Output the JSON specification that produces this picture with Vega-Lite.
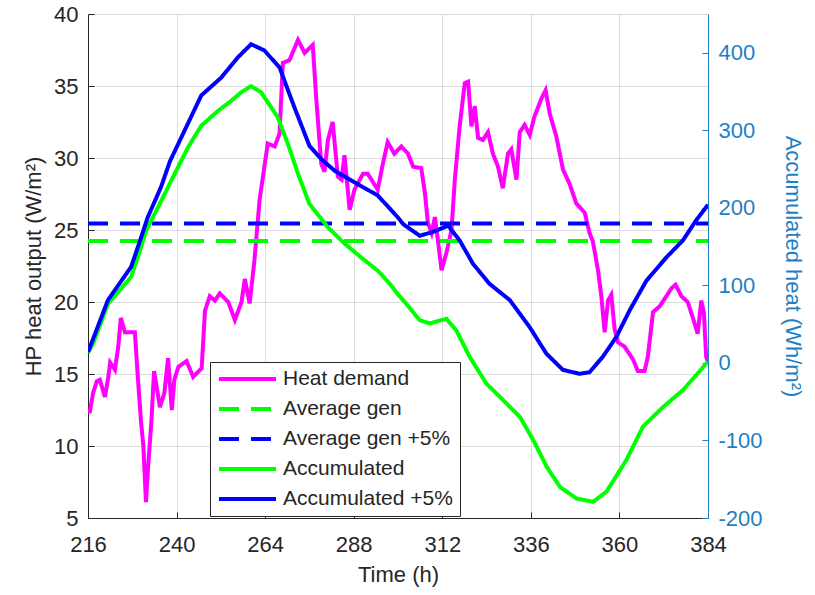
{
  "$schema": "https://vega.github.io/schema/vega-lite/v6.json",
  "width": 620,
  "height": 504,
  "autosize": "none",
  "padding": {"left": 88, "top": 14, "right": 107, "bottom": 77},
  "background": "white",
  "config": {
    "font": "Liberation Sans",
    "view": {"stroke": "#d4d4d4", "strokeWidth": 1},
    "legend": {
      "orient": "none",
      "legendX": 122,
      "legendY": 348,
      "strokeColor": "#262626",
      "fillColor": "white",
      "padding": 7,
      "symbolType": "stroke",
      "symbolSize": 3249,
      "symbolStrokeWidth": 4,
      "clipHeight": 20,
      "labelFontSize": 21,
      "labelColor": "#262626",
      "labelOffset": 5,
      "labelLimit": 400,
      "rowPadding": 9,
      "title": null
    }
  },
  "data": {
    "values": [
      {"series": "Heat demand", "h": 216, "v": 12.4},
      {"series": "Heat demand", "h": 216.5, "v": 12.4},
      {"series": "Heat demand", "h": 217.4, "v": 13.7},
      {"series": "Heat demand", "h": 218.4, "v": 14.5},
      {"series": "Heat demand", "h": 219.2, "v": 14.6},
      {"series": "Heat demand", "h": 220.6, "v": 13.4},
      {"series": "Heat demand", "h": 221.5, "v": 14.8},
      {"series": "Heat demand", "h": 222, "v": 15.8},
      {"series": "Heat demand", "h": 223.3, "v": 15.3},
      {"series": "Heat demand", "h": 224.2, "v": 16.9},
      {"series": "Heat demand", "h": 224.9, "v": 18.9},
      {"series": "Heat demand", "h": 226, "v": 17.9},
      {"series": "Heat demand", "h": 228.7, "v": 17.9},
      {"series": "Heat demand", "h": 229.5, "v": 14.8},
      {"series": "Heat demand", "h": 230.4, "v": 11.6},
      {"series": "Heat demand", "h": 231, "v": 10.0},
      {"series": "Heat demand", "h": 231.7, "v": 6.1},
      {"series": "Heat demand", "h": 232.3, "v": 8.6},
      {"series": "Heat demand", "h": 233.2, "v": 11.8},
      {"series": "Heat demand", "h": 233.9, "v": 15.2},
      {"series": "Heat demand", "h": 234.6, "v": 14.1},
      {"series": "Heat demand", "h": 235.5, "v": 12.7},
      {"series": "Heat demand", "h": 236.7, "v": 13.7},
      {"series": "Heat demand", "h": 237.7, "v": 16.1},
      {"series": "Heat demand", "h": 238.7, "v": 12.5},
      {"series": "Heat demand", "h": 239.4, "v": 14.6},
      {"series": "Heat demand", "h": 240.5, "v": 15.5},
      {"series": "Heat demand", "h": 242.7, "v": 15.9},
      {"series": "Heat demand", "h": 244.5, "v": 14.8},
      {"series": "Heat demand", "h": 246.8, "v": 15.4},
      {"series": "Heat demand", "h": 247.7, "v": 19.4},
      {"series": "Heat demand", "h": 249, "v": 20.4},
      {"series": "Heat demand", "h": 250.4, "v": 20.1},
      {"series": "Heat demand", "h": 251.7, "v": 20.6},
      {"series": "Heat demand", "h": 254, "v": 20.0},
      {"series": "Heat demand", "h": 255.8, "v": 18.75},
      {"series": "Heat demand", "h": 257.6, "v": 20.0},
      {"series": "Heat demand", "h": 258.5, "v": 21.6},
      {"series": "Heat demand", "h": 259.8, "v": 19.9},
      {"series": "Heat demand", "h": 261.1, "v": 22.9},
      {"series": "Heat demand", "h": 262.5, "v": 27.1},
      {"series": "Heat demand", "h": 264.7, "v": 31.0},
      {"series": "Heat demand", "h": 266.6, "v": 30.8},
      {"series": "Heat demand", "h": 267.9, "v": 31.7},
      {"series": "Heat demand", "h": 268.8, "v": 36.6},
      {"series": "Heat demand", "h": 270.6, "v": 36.8},
      {"series": "Heat demand", "h": 272.9, "v": 38.2},
      {"series": "Heat demand", "h": 274.7, "v": 37.3},
      {"series": "Heat demand", "h": 276.9, "v": 37.85},
      {"series": "Heat demand", "h": 277.8, "v": 34.3},
      {"series": "Heat demand", "h": 279.2, "v": 29.6},
      {"series": "Heat demand", "h": 280.1, "v": 29.05},
      {"series": "Heat demand", "h": 281, "v": 31.25},
      {"series": "Heat demand", "h": 282.3, "v": 32.5},
      {"series": "Heat demand", "h": 283.7, "v": 28.7},
      {"series": "Heat demand", "h": 284.7, "v": 28.5},
      {"series": "Heat demand", "h": 285.5, "v": 30.2},
      {"series": "Heat demand", "h": 286.9, "v": 26.4},
      {"series": "Heat demand", "h": 288.2, "v": 27.8},
      {"series": "Heat demand", "h": 290.5, "v": 28.9},
      {"series": "Heat demand", "h": 291.8, "v": 28.9},
      {"series": "Heat demand", "h": 294.5, "v": 27.8},
      {"series": "Heat demand", "h": 295.9, "v": 29.6},
      {"series": "Heat demand", "h": 297.2, "v": 31.1},
      {"series": "Heat demand", "h": 299, "v": 30.3},
      {"series": "Heat demand", "h": 300.9, "v": 30.8},
      {"series": "Heat demand", "h": 302.7, "v": 30.3},
      {"series": "Heat demand", "h": 304.1, "v": 29.4},
      {"series": "Heat demand", "h": 306.3, "v": 29.3},
      {"series": "Heat demand", "h": 307.3, "v": 27.55},
      {"series": "Heat demand", "h": 308.1, "v": 25.5},
      {"series": "Heat demand", "h": 309.1, "v": 24.8},
      {"series": "Heat demand", "h": 310, "v": 25.9},
      {"series": "Heat demand", "h": 310.9, "v": 24.1},
      {"series": "Heat demand", "h": 311.8, "v": 22.2},
      {"series": "Heat demand", "h": 313.1, "v": 23.4},
      {"series": "Heat demand", "h": 314.5, "v": 25.0},
      {"series": "Heat demand", "h": 315.4, "v": 28.5},
      {"series": "Heat demand", "h": 316.7, "v": 32.2},
      {"series": "Heat demand", "h": 318.1, "v": 35.2},
      {"series": "Heat demand", "h": 319, "v": 35.3},
      {"series": "Heat demand", "h": 319.9, "v": 32.2},
      {"series": "Heat demand", "h": 320.8, "v": 33.6},
      {"series": "Heat demand", "h": 321.7, "v": 31.4},
      {"series": "Heat demand", "h": 323, "v": 31.25},
      {"series": "Heat demand", "h": 324.4, "v": 31.8},
      {"series": "Heat demand", "h": 325.7, "v": 30.3},
      {"series": "Heat demand", "h": 327.1, "v": 29.4},
      {"series": "Heat demand", "h": 328.4, "v": 27.9},
      {"series": "Heat demand", "h": 329.8, "v": 30.3},
      {"series": "Heat demand", "h": 330.7, "v": 30.6},
      {"series": "Heat demand", "h": 332.1, "v": 28.5},
      {"series": "Heat demand", "h": 333, "v": 31.8},
      {"series": "Heat demand", "h": 334.3, "v": 32.3},
      {"series": "Heat demand", "h": 335.7, "v": 31.6},
      {"series": "Heat demand", "h": 337, "v": 32.9},
      {"series": "Heat demand", "h": 338.9, "v": 34.15},
      {"series": "Heat demand", "h": 340, "v": 34.7},
      {"series": "Heat demand", "h": 341.1, "v": 33.1},
      {"series": "Heat demand", "h": 342.9, "v": 31.5},
      {"series": "Heat demand", "h": 344.7, "v": 29.2},
      {"series": "Heat demand", "h": 346.5, "v": 28.2},
      {"series": "Heat demand", "h": 348.3, "v": 26.85},
      {"series": "Heat demand", "h": 350.6, "v": 26.2},
      {"series": "Heat demand", "h": 351.9, "v": 24.8},
      {"series": "Heat demand", "h": 352.8, "v": 24.2},
      {"series": "Heat demand", "h": 354.2, "v": 22.2},
      {"series": "Heat demand", "h": 355.1, "v": 20.4},
      {"series": "Heat demand", "h": 356, "v": 17.9},
      {"series": "Heat demand", "h": 356.9, "v": 20.1},
      {"series": "Heat demand", "h": 357.8, "v": 20.5},
      {"series": "Heat demand", "h": 358.7, "v": 18.1},
      {"series": "Heat demand", "h": 359.6, "v": 17.2},
      {"series": "Heat demand", "h": 361.4, "v": 16.9},
      {"series": "Heat demand", "h": 363.7, "v": 16.0},
      {"series": "Heat demand", "h": 365, "v": 15.2},
      {"series": "Heat demand", "h": 366.8, "v": 15.2},
      {"series": "Heat demand", "h": 367.7, "v": 16.2},
      {"series": "Heat demand", "h": 369.1, "v": 19.3},
      {"series": "Heat demand", "h": 370.9, "v": 19.7},
      {"series": "Heat demand", "h": 372.7, "v": 20.4},
      {"series": "Heat demand", "h": 374.1, "v": 20.95},
      {"series": "Heat demand", "h": 375.2, "v": 21.2},
      {"series": "Heat demand", "h": 376.8, "v": 20.4},
      {"series": "Heat demand", "h": 378.5, "v": 20.0},
      {"series": "Heat demand", "h": 379.9, "v": 18.9},
      {"series": "Heat demand", "h": 381.2, "v": 17.8},
      {"series": "Heat demand", "h": 382.2, "v": 20.1},
      {"series": "Heat demand", "h": 382.9, "v": 19.2},
      {"series": "Heat demand", "h": 383.5, "v": 16.2},
      {"series": "Heat demand", "h": 384, "v": 15.8},
      {"series": "Average gen", "h": 216, "v": 24.24},
      {"series": "Average gen", "h": 384, "v": 24.24},
      {"series": "Average gen +5%", "h": 216, "v": 25.45},
      {"series": "Average gen +5%", "h": 384, "v": 25.45},
      {"series": "Accumulated", "h": 216, "v": 13},
      {"series": "Accumulated", "h": 217.4, "v": 25},
      {"series": "Accumulated", "h": 221.4, "v": 76},
      {"series": "Accumulated", "h": 227.7, "v": 111},
      {"series": "Accumulated", "h": 229.5, "v": 136},
      {"series": "Accumulated", "h": 231.8, "v": 171},
      {"series": "Accumulated", "h": 235, "v": 201},
      {"series": "Accumulated", "h": 239.5, "v": 244},
      {"series": "Accumulated", "h": 243.1, "v": 278},
      {"series": "Accumulated", "h": 246.7, "v": 306},
      {"series": "Accumulated", "h": 251.2, "v": 325},
      {"series": "Accumulated", "h": 254.8, "v": 338},
      {"series": "Accumulated", "h": 257.5, "v": 349},
      {"series": "Accumulated", "h": 260.2, "v": 357},
      {"series": "Accumulated", "h": 262.9, "v": 349},
      {"series": "Accumulated", "h": 267.4, "v": 317},
      {"series": "Accumulated", "h": 270.2, "v": 282},
      {"series": "Accumulated", "h": 272.9, "v": 244},
      {"series": "Accumulated", "h": 276, "v": 205},
      {"series": "Accumulated", "h": 281, "v": 175},
      {"series": "Accumulated", "h": 285.5, "v": 154},
      {"series": "Accumulated", "h": 290, "v": 136},
      {"series": "Accumulated", "h": 294.5, "v": 119},
      {"series": "Accumulated", "h": 297.8, "v": 102},
      {"series": "Accumulated", "h": 299.9, "v": 89},
      {"series": "Accumulated", "h": 302.3, "v": 76},
      {"series": "Accumulated", "h": 305.9, "v": 55},
      {"series": "Accumulated", "h": 308.6, "v": 51},
      {"series": "Accumulated", "h": 313.1, "v": 57},
      {"series": "Accumulated", "h": 315.8, "v": 42},
      {"series": "Accumulated", "h": 319.4, "v": 8},
      {"series": "Accumulated", "h": 324, "v": -27},
      {"series": "Accumulated", "h": 328.5, "v": -48},
      {"series": "Accumulated", "h": 333.1, "v": -70},
      {"series": "Accumulated", "h": 336.7, "v": -100},
      {"series": "Accumulated", "h": 340.3, "v": -134},
      {"series": "Accumulated", "h": 343.9, "v": -160},
      {"series": "Accumulated", "h": 348.4, "v": -175},
      {"series": "Accumulated", "h": 352.9, "v": -179},
      {"series": "Accumulated", "h": 356.5, "v": -166},
      {"series": "Accumulated", "h": 361.9, "v": -125},
      {"series": "Accumulated", "h": 366.4, "v": -82},
      {"series": "Accumulated", "h": 371.8, "v": -57},
      {"series": "Accumulated", "h": 377.2, "v": -35},
      {"series": "Accumulated", "h": 383.5, "v": -1},
      {"series": "Accumulated", "h": 384, "v": 1},
      {"series": "Accumulated +5%", "h": 216, "v": 14},
      {"series": "Accumulated +5%", "h": 216.9, "v": 25},
      {"series": "Accumulated +5%", "h": 221.4, "v": 81},
      {"series": "Accumulated +5%", "h": 227.7, "v": 124},
      {"series": "Accumulated +5%", "h": 230.4, "v": 162},
      {"series": "Accumulated +5%", "h": 232.2, "v": 188},
      {"series": "Accumulated +5%", "h": 235.8, "v": 227},
      {"series": "Accumulated +5%", "h": 238.2, "v": 260},
      {"series": "Accumulated +5%", "h": 240.3, "v": 281},
      {"series": "Accumulated +5%", "h": 246.7, "v": 345},
      {"series": "Accumulated +5%", "h": 252.1, "v": 368},
      {"series": "Accumulated +5%", "h": 256.6, "v": 394},
      {"series": "Accumulated +5%", "h": 260.2, "v": 411},
      {"series": "Accumulated +5%", "h": 263.8, "v": 403},
      {"series": "Accumulated +5%", "h": 267.9, "v": 381},
      {"series": "Accumulated +5%", "h": 271.9, "v": 330},
      {"series": "Accumulated +5%", "h": 276, "v": 280},
      {"series": "Accumulated +5%", "h": 279.2, "v": 263},
      {"series": "Accumulated +5%", "h": 282.8, "v": 248},
      {"series": "Accumulated +5%", "h": 288.2, "v": 233},
      {"series": "Accumulated +5%", "h": 294.5, "v": 216},
      {"series": "Accumulated +5%", "h": 297.8, "v": 199},
      {"series": "Accumulated +5%", "h": 299.9, "v": 188},
      {"series": "Accumulated +5%", "h": 301.4, "v": 179},
      {"series": "Accumulated +5%", "h": 305.9, "v": 164},
      {"series": "Accumulated +5%", "h": 309.5, "v": 169},
      {"series": "Accumulated +5%", "h": 313.6, "v": 177},
      {"series": "Accumulated +5%", "h": 316.7, "v": 158},
      {"series": "Accumulated +5%", "h": 320.3, "v": 128},
      {"series": "Accumulated +5%", "h": 324.8, "v": 102},
      {"series": "Accumulated +5%", "h": 330.3, "v": 81},
      {"series": "Accumulated +5%", "h": 335.7, "v": 46},
      {"series": "Accumulated +5%", "h": 340.2, "v": 12},
      {"series": "Accumulated +5%", "h": 344.7, "v": -9},
      {"series": "Accumulated +5%", "h": 349.2, "v": -14},
      {"series": "Accumulated +5%", "h": 351.9, "v": -12},
      {"series": "Accumulated +5%", "h": 355.5, "v": 8},
      {"series": "Accumulated +5%", "h": 359.1, "v": 33},
      {"series": "Accumulated +5%", "h": 362.8, "v": 68},
      {"series": "Accumulated +5%", "h": 367.3, "v": 106},
      {"series": "Accumulated +5%", "h": 372.7, "v": 136},
      {"series": "Accumulated +5%", "h": 377.2, "v": 158},
      {"series": "Accumulated +5%", "h": 380.8, "v": 184},
      {"series": "Accumulated +5%", "h": 384, "v": 204}
    ]
  },
  "encoding": {
    "x": {
      "field": "h",
      "type": "quantitative",
      "scale": {"domain": [216, 384], "nice": false, "zero": false},
      "axis": {
        "values": [216, 240, 264, 288, 312, 336, 360, 384],
        "title": "Time (h)",
        "titleFontSize": 22,
        "titleFontWeight": "normal",
        "titleColor": "#262626",
        "titlePadding": 9,
        "labelFontSize": 22,
        "labelColor": "#262626",
        "labelPadding": 22,
        "labelFlush": false,
        "labelOverlap": false,
        "tickColor": "#262626",
        "tickSize": -6,
        "domainColor": "#262626",
        "grid": true,
        "gridColor": "#dcdcdc"
      }
    },
    "color": {
      "field": "series",
      "type": "nominal",
      "scale": {
        "domain": ["Heat demand", "Average gen", "Average gen +5%", "Accumulated", "Accumulated +5%"],
        "range": ["#FF00FF", "#00FF00", "#0000FF", "#00FF00", "#0000FF"]
      },
      "legend": {"title": null}
    },
    "strokeDash": {
      "field": "series",
      "type": "nominal",
      "scale": {
        "domain": ["Heat demand", "Average gen", "Average gen +5%", "Accumulated", "Accumulated +5%"],
        "range": [[1, 0], [20, 12], [20, 12], [1, 0], [1, 0]]
      },
      "legend": {"title": null}
    }
  },
  "layer": [
    {
      "transform": [{"filter": {"field": "series", "oneOf": ["Heat demand", "Average gen", "Average gen +5%"]}}],
      "mark": {"type": "line", "strokeWidth": 4, "clip": true},
      "encoding": {
        "y": {
          "field": "v",
          "type": "quantitative",
          "scale": {"domain": [5, 40], "nice": false, "zero": false},
          "axis": {
            "orient": "left",
            "values": [5, 10, 15, 20, 25, 30, 35, 40],
            "title": "HP heat output (W/m²)",
            "titleFontSize": 22,
            "titleFontWeight": "normal",
            "titleColor": "#262626",
            "titlePadding": 8,
            "labelFontSize": 22,
            "labelColor": "#262626",
            "labelPadding": 16,
            "labelFlush": false,
            "labelOverlap": false,
            "tickColor": "#262626",
            "tickSize": -6,
            "domainColor": "#262626",
            "grid": true,
            "gridColor": "#dcdcdc"
          }
        }
      }
    },
    {
      "transform": [{"filter": {"field": "series", "oneOf": ["Accumulated", "Accumulated +5%"]}}],
      "mark": {"type": "line", "strokeWidth": 4, "clip": true},
      "encoding": {
        "y": {
          "field": "v",
          "type": "quantitative",
          "scale": {"domain": [-200, 450], "nice": false, "zero": false},
          "axis": {
            "orient": "right",
            "values": [-200, -100, 0, 100, 200, 300, 400],
            "labelExpr": "'' + datum.value",
            "title": "Accumulated heat (Wh/m²)",
            "titleFontSize": 22,
            "titleFontWeight": "normal",
            "titleColor": "#1f7fc6",
            "titlePadding": 18,
            "labelFontSize": 22,
            "labelColor": "#1f7fc6",
            "labelPadding": 16,
            "labelFlush": false,
            "labelOverlap": false,
            "tickColor": "#1f7fc6",
            "tickSize": -6,
            "domainColor": "#1f7fc6",
            "grid": false
          }
        }
      }
    }
  ],
  "resolve": {"scale": {"y": "independent"}}
}
